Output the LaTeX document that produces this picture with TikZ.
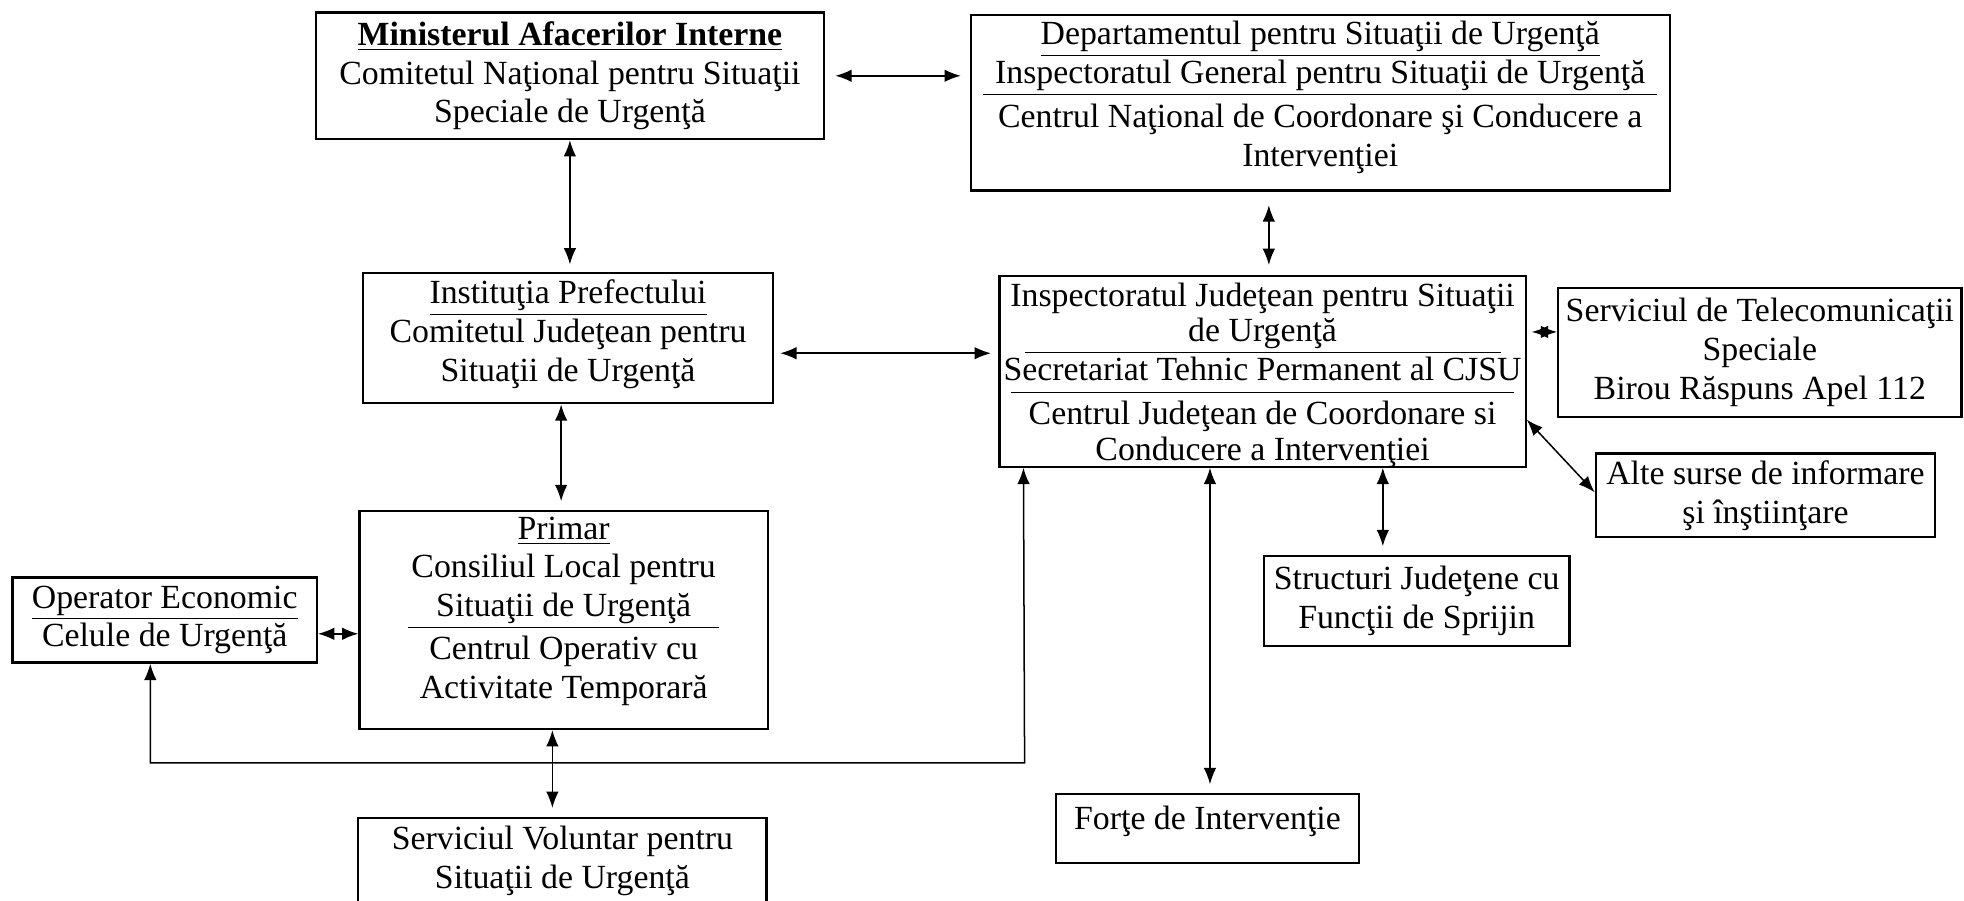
\documentclass[tikz,border=0pt]{standalone}
\usepackage{fontspec}
\setmainfont{Liberation Serif}
\usetikzlibrary{arrows.meta}

\begin{document}
\begin{tikzpicture}[x=0.5pt,y=-0.5pt,
    box/.style={draw, line width=0.9pt, align=center, inner sep=0pt,
      font=\fontsize{13.5}{15.5}\selectfont},
    link/.style={<->, >={Latex[length=6.5pt,width=5pt]}, line width=0.6pt}]
		\useasboundingbox (0,0) rectangle (1568,719);

		\node[box, minimum width=203pt, minimum height=50.5pt] (mai) at (455,60.5)
			{\underline{\textbf{Ministerul Afacerilor Interne}}\\Comitetul Naţional pentru Situaţii\\Speciale de Urgenţă};
		\node[box, minimum width=279pt, minimum height=70pt, text depth=7pt] (dsu) at (1054,82)
			{\underline{Departamentul pentru Situaţii de Urgenţă}\\\underline{\makebox[269pt]{Inspectoratul General pentru Situaţii de Urgenţă}}\\[2pt]Centrul Naţional de Coordonare şi Conducere a\\Intervenţiei};

		\node[box, minimum width=163.5pt, minimum height=52pt, text depth=6pt] (inst) at (453.5,270)
			{\underline{Instituţia Prefectului}\\Comitetul Judeţean pentru\\Situaţii de Urgenţă};
		\node[box, minimum width=210pt, minimum height=75.5pt, text depth=2.5pt, font=\fontsize{13.5}{14.2}\selectfont] (ijsu) at (1008,296.5)
			{\rule{0pt}{12pt}Inspectoratul Judeţean pentru Situaţii\\\underline{\makebox[190pt]{de Urgenţă}}\\\underline{\makebox[201pt]{Secretariat Tehnic Permanent al CJSU\rule[-3.5pt]{0pt}{0pt}}}\\[2pt]Centrul Judeţean de Coordonare si\\Conducere a Intervenţiei};
		\node[box, minimum width=161pt, minimum height=51.5pt] (tel) at (1405,281.5)
			{Serviciul de Telecomunicaţii\\Speciale\\Birou Răspuns Apel 112};
		\node[box, minimum width=135.5pt, minimum height=33.5pt] (alte) at (1409.5,395.5)
			{Alte surse de informare\\şi înştiinţare};
		\node[box, minimum width=122pt, minimum height=36pt] (struct) at (1131,480)
			{Structuri Judeţene cu\\Funcţii de Sprijin};
		\node[box, minimum width=121pt, minimum height=27.5pt, text depth=8.5pt] (forte) at (964,661.5)
			{Forţe de Intervenţie};

		\node[box, minimum width=163pt, minimum height=87pt, text depth=10pt] (primar) at (450,495)
			{\underline{Primar}\\Consiliul Local pentru\\\underline{\makebox[124pt]{Situaţii de Urgenţă}}\\[1.5pt]Centrul Operativ cu\\Activitate Temporară};
		\node[box, minimum width=121.5pt, minimum height=34pt] (oper) at (131.5,495)
			{\underline{Operator Economic}\\Celule de Urgenţă};
		\node[box, minimum width=163pt, inner ysep=3.2pt, text depth=30pt, anchor=north] (volunt) at (449,652)
			{Serviciul Voluntar pentru\\Situaţii de Urgenţă};

		\coordinate (turn) at (818,609);

		\draw[link, shorten <=4pt, shorten >=3.5pt] (mai.east) -- (mai.east -| dsu.west);
		\draw[link, shorten >=3pt] (mai.south) -- (mai.south |- inst.north);
		\draw[link, shorten <=5.5pt, shorten >=4pt] ([xshift=-20.5pt]dsu.south) -- ([xshift=2.5pt]ijsu.north);
		\draw[link, shorten <=2.5pt, shorten >=3pt] ([yshift=-6pt]inst.east) -- ([yshift=7.25pt]ijsu.west);
		\draw[link, shorten >=3.5pt] ([xshift=-2.75pt]inst.south) -- ([xshift=-1pt]primar.north);
		\draw[link] ([yshift=-5.5pt]oper.east) -- ([yshift=-5.5pt]primar.west);
		\draw[link, shorten >=3.5pt] ([xshift=-4.5pt]primar.south) -- ([xshift=-4pt]volunt.north);
		\draw[link] ([xshift=-5.75pt]oper.south) |- (turn) -- ([xshift=10pt]ijsu.south west);
		\draw[link, shorten >=3.5pt] ([xshift=-21pt]ijsu.south) -- ([xshift=1pt]forte.north);
		\draw[link, shorten >=3.5pt] ([xshift=48pt]ijsu.south) -- ([xshift=-13.5pt]struct.north);
		\draw[link, shorten <=2pt] ([yshift=15.75pt]ijsu.east) -- ([yshift=8.25pt]tel.west);
		\draw[link] ([yshift=-19.25pt]ijsu.east) -- ([yshift=1.25pt]alte.west);
	\end{tikzpicture}
\end{document}
